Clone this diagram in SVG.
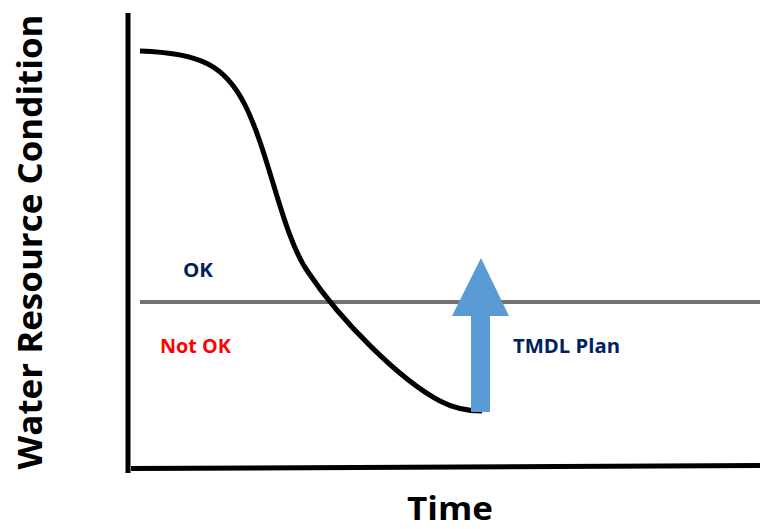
<svg xmlns="http://www.w3.org/2000/svg" width="760" height="529" viewBox="0 0 760 529">
<style>
.lbl{font-family:"Open Sans","Liberation Sans",sans-serif;font-weight:bold;}
.axis{stroke:#000;stroke-width:5;fill:none;}
</style>
<rect width="760" height="529" fill="#fff"/>
<g id="axes">
<line class="axis" x1="128" y1="13" x2="128" y2="473"/>
<line class="axis" x1="131" y1="468.5" x2="760" y2="465.5"/>
</g>
<g id="threshold">
<line x1="140" y1="302" x2="760" y2="302" stroke="#767171" stroke-width="4"/>
</g>
<g id="curve">
<path d="M140,51 C200,53 225,65 245,105 C270,155 282,235 308,272 C340,320 400,380 440,401 C455,409 468,411 482,411" fill="none" stroke="#000" stroke-width="5"/>
</g>
<g id="arrow">
<polygon points="471,412 490,412 490,316 509,316 481,258 452,316 471,316" fill="#5B9BD5"/>
</g>
<g id="labels">
<text class="lbl" x="183" y="277" font-size="19" fill="#002060" textLength="30" lengthAdjust="spacingAndGlyphs">OK</text>
<text class="lbl" x="160" y="353" font-size="19" fill="#FF0000" textLength="71" lengthAdjust="spacingAndGlyphs">Not OK</text>
<text class="lbl" x="513" y="353" font-size="19" fill="#002060" textLength="107" lengthAdjust="spacingAndGlyphs">TMDL Plan</text>
<text class="lbl" x="450" y="520" font-size="33" fill="#000" text-anchor="middle" textLength="86" lengthAdjust="spacingAndGlyphs">Time</text>
<text class="lbl" transform="translate(42,242) rotate(-90)" x="0" y="0" font-size="34" fill="#000" text-anchor="middle" textLength="455" lengthAdjust="spacingAndGlyphs">Water Resource Condition</text>
</g>
</svg>
